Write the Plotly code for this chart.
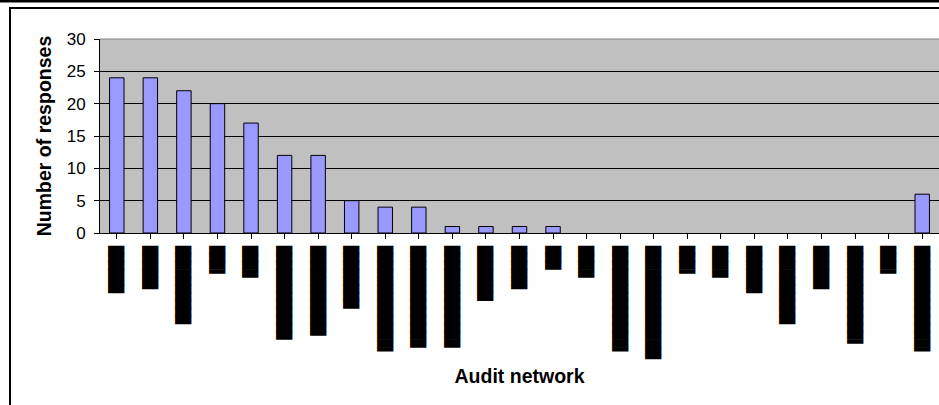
import plotly.graph_objects as go

# Responses per audit network (25 networks, names blacked out)
responses = [24, 24, 22, 20, 17, 12, 12, 5, 4, 4, 1, 1, 1, 1,
             0, 0, 0, 0, 0, 0, 0, 0, 0, 0, 6]

# Redacted network names: length of each blacked-out name in half-block cells
redacted_half_cells = [12, 11, 20, 7, 8, 24, 23, 16, 27, 26, 26, 14, 11,
                       6, 8, 27, 29, 7, 8, 12, 20, 11, 25, 7, 27]


def redacted(n):
    # a right-half block at the start gives half-cell resolution;
    # slightly negative letter spacing closes the seams between blocks
    blocks = ("\u2590" if n % 2 else "") + "\u2588" * (n // 2)
    return '<span style="letter-spacing:-0.5px">' + blocks + "</span>"


network_labels = [redacted(n) for n in redacted_half_cells]
positions = list(range(len(responses)))

W, H = 939, 405
L, R, T, B = 100, 0, 39, 172
plot_w = W - L - R
plot_h = H - T - B


def px_x(px):
    return (px - L) / plot_w


def px_y(py):
    return (H - B - py) / plot_h


fig = go.Figure(
    go.Bar(
        x=positions,
        y=responses,
        marker=dict(
            color="#9999FF",
            # empty categories get no outline
            line=dict(color="black", width=[1 if v > 0 else 0 for v in responses]),
        ),
        hoverinfo="y",
    )
)

font_main = "Liberation Sans, Arial, sans-serif"

fig.update_layout(
    width=W,
    height=H,
    margin=dict(l=L, r=R, t=T, b=B, pad=0),
    paper_bgcolor="white",
    plot_bgcolor="#C0C0C0",
    bargap=0.57,
    showlegend=False,
    font=dict(family=font_main, color="black"),
    xaxis=dict(
        tickmode="array",
        tickvals=positions,
        ticktext=network_labels,
        tickangle=-90,
        tickfont=dict(family="DejaVu Sans Mono", size=13.75, color="black"),
        ticklabelstandoff=2,
        range=[-0.5, len(responses) - 0.5],
        showgrid=False,
        zeroline=False,
        showline=True,
        linecolor="black",
        linewidth=1,
        ticks="outside",
        ticklen=5,
        tickcolor="black",
        tickson="boundaries",
        title=dict(text="<b>Audit network</b>",
                   font=dict(family=font_main, size=19.5, color="black"),
                   standoff=7),
    ),
    yaxis=dict(
        range=[0, 30],
        dtick=5,
        tickfont=dict(family=font_main, size=17, color="black"),
        ticklabelstandoff=5,
        showgrid=True,
        gridcolor="black",
        gridwidth=1,
        zeroline=False,
        showline=True,
        linecolor="black",
        linewidth=1,
        ticks="outside",
        ticklen=5,
        tickcolor="black",
        title=dict(text="<b>Number of responses</b>",
                   font=dict(family=font_main, size=19.5, color="black"),
                   standoff=9),
    ),
    shapes=[
        # plot-area border along the top
        dict(type="line", xref="paper", yref="paper", x0=0, x1=1, y0=1, y1=1,
             line=dict(color="#808080", width=1)),
        # outer rule across the top of the page
        dict(type="line", xref="paper", yref="paper",
             x0=px_x(-5), x1=px_x(W + 5), y0=px_y(1), y1=px_y(1),
             line=dict(color="black", width=3)),
        # chart frame: top and left edges
        dict(type="line", xref="paper", yref="paper",
             x0=px_x(9), x1=px_x(W + 5), y0=px_y(8), y1=px_y(8),
             line=dict(color="black", width=2)),
        dict(type="line", xref="paper", yref="paper",
             x0=px_x(10), x1=px_x(10), y0=px_y(7), y1=px_y(H + 5),
             line=dict(color="black", width=2)),
    ],
)

fig.write_html("out.html")
